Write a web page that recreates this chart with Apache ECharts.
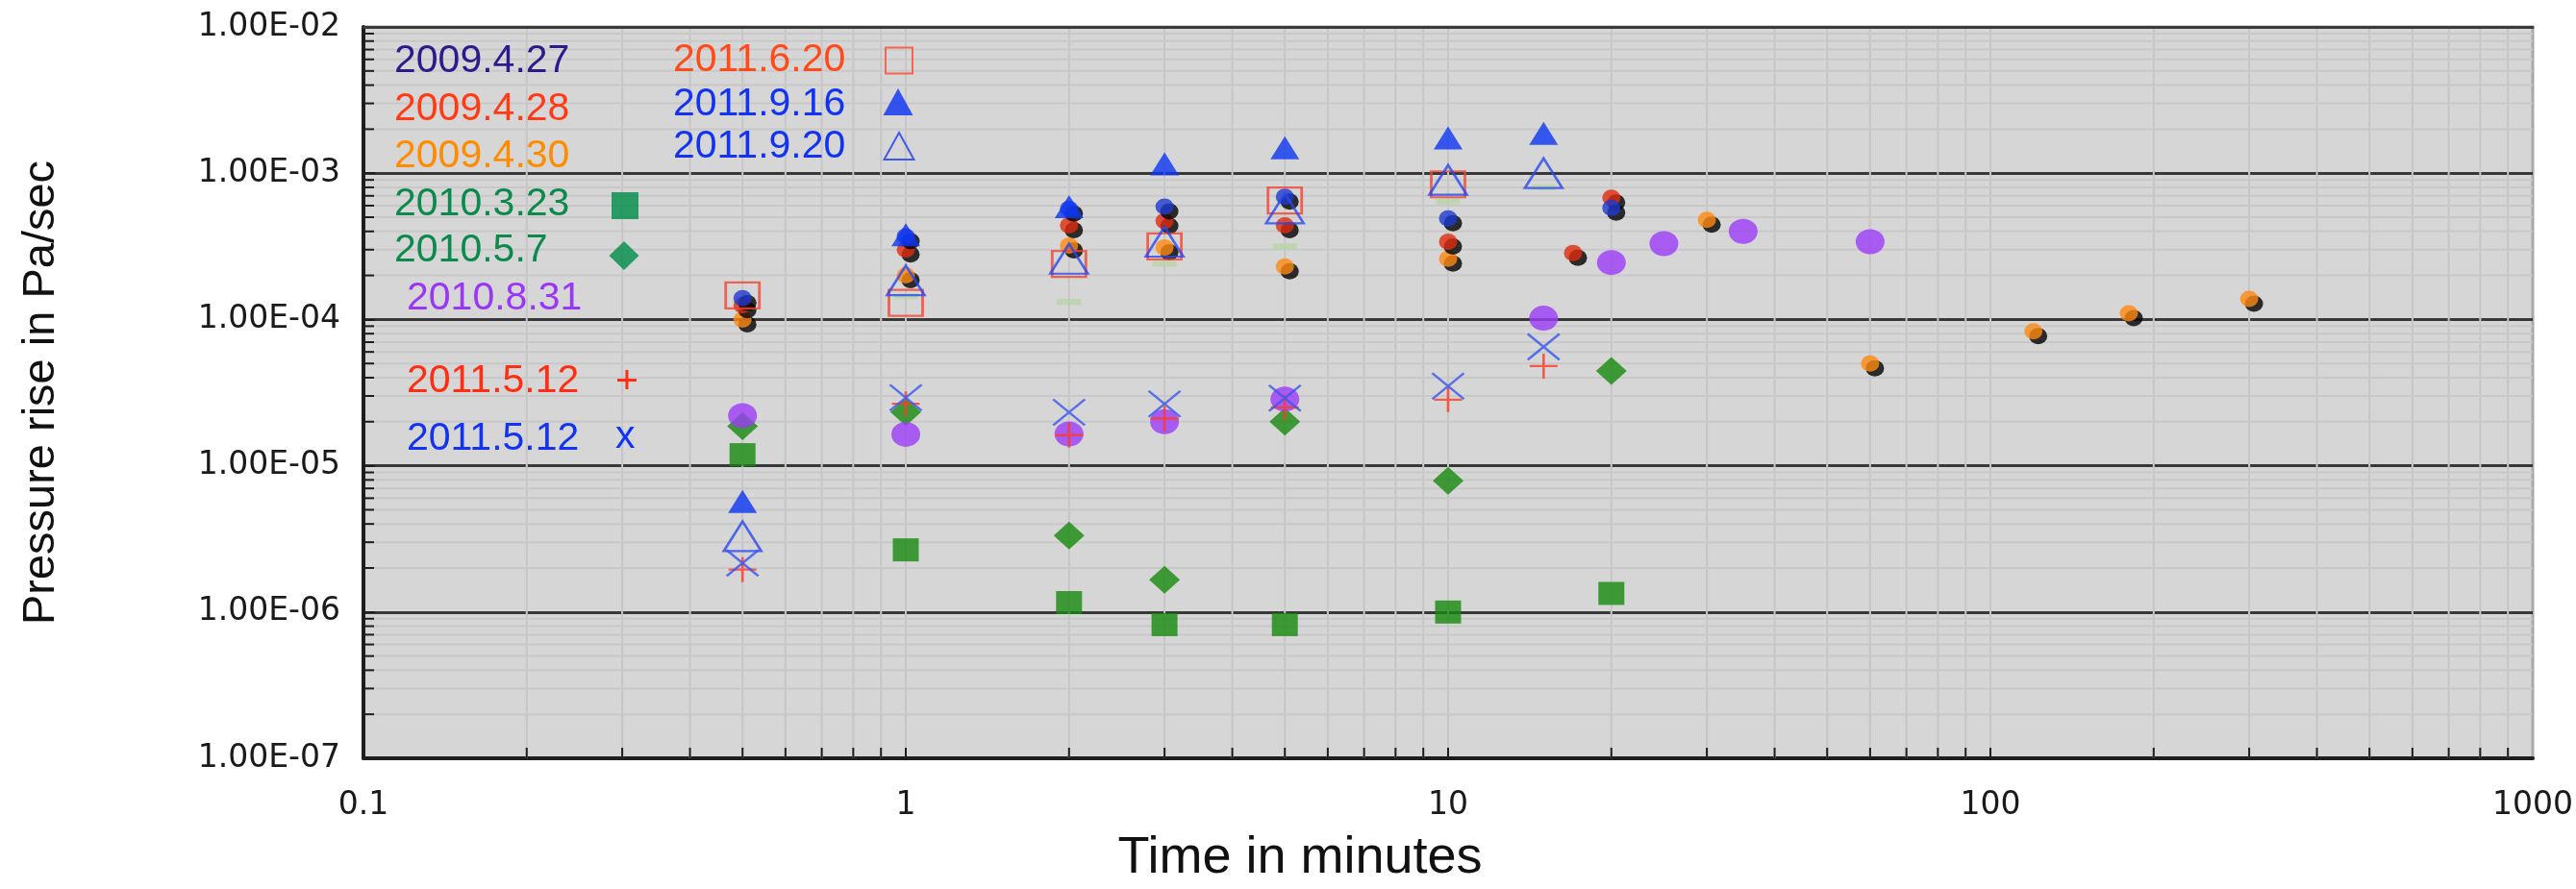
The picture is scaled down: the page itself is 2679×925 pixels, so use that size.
<!DOCTYPE html>
<html><head><meta charset="utf-8">
<script src="https://cdn.jsdelivr.net/npm/echarts@6/dist/echarts.min.js"></script>
<style>html,body{margin:0;padding:0;background:#fff}#c{width:2679px;height:925px}</style>
</head><body><div id="c"></div>
<script>
// ---------- data (time in minutes, pressure rise in Pa/sec) ----------
const xTickLabels = ['0.1', '1', '10', '100', '1000'];
const yTickLabels = ['1.00E-07', '1.00E-06', '1.00E-05', '1.00E-04', '1.00E-03', '1.00E-02'];

const t_20090427 = [0.5, 1, 2, 3, 5, 10, 20];
const p_20090427 = [1.4e-4, 3.7e-4, 5.7e-4, 5.9e-4, 6.9e-4, 4.9e-4, 5.8e-4];

const t_20090428 = [0.5, 1, 2, 3, 5, 10, 17, 20];
const p_20090428 = [1.25e-4, 3.0e-4, 4.4e-4, 4.7e-4, 4.4e-4, 3.4e-4, 2.85e-4, 6.8e-4];

const t_20090430 = [0.5, 1, 2, 3, 5, 10, 30, 60, 120, 180, 300];
const p_20090430 = [1.0e-4, 2.0e-4, 3.2e-4, 3.1e-4, 2.3e-4, 2.6e-4, 4.8e-4, 5.0e-5, 8.3e-5, 1.1e-4, 1.38e-4];

const t_20100323 = [0.5, 1, 2, 3, 5, 10, 20];
const p_20100323 = [1.19e-5, 2.66e-6, 1.16e-6, 8.2e-7, 8.2e-7, 1.0e-6, 1.34e-6];

const t_20100507 = [0.5, 1, 2, 3, 5, 10, 20];
const p_20100507 = [1.86e-5, 2.33e-5, 3.33e-6, 1.66e-6, 2.0e-5, 7.9e-6, 4.45e-5];

const t_20100831 = [0.5, 1, 2, 3, 5, 15, 20, 25, 35, 60];
const p_20100831 = [2.2e-5, 1.64e-5, 1.65e-5, 2.0e-5, 2.85e-5, 1.02e-4, 2.45e-4, 3.3e-4, 4.0e-4, 3.4e-4];

const t_20110512plus = [0.5, 1, 2, 3, 5, 10, 15];
const p_20110512plus = [1.95e-6, 2.65e-5, 1.62e-5, 2.1e-5, 2.5e-5, 2.83e-5, 4.8e-5];

const t_20110512x = [0.5, 1, 2, 3, 5, 10, 15];
const p_20110512x = [2.16e-6, 2.92e-5, 2.32e-5, 2.65e-5, 2.9e-5, 3.5e-5, 6.5e-5];

const t_20110620 = [0.5, 1, 2, 3, 5, 10];
const p_20110620 = [1.46e-4, 1.3e-4, 2.4e-4, 3.16e-4, 6.5e-4, 8.4e-4];

const t_20110916 = [0.5, 1, 2, 3, 5, 10, 15];
const p_20110916 = [5.7e-6, 3.8e-4, 5.9e-4, 1.16e-3, 1.49e-3, 1.74e-3, 1.87e-3];

const t_20110920 = [0.5, 1, 2, 3, 5, 10, 15];
const p_20110920 = [3.3e-6, 1.85e-4, 2.6e-4, 3.4e-4, 5.75e-4, 9.0e-4, 1.0e-3];

// pale green dashes (no legend entry)
const t_unlabeled = [1, 2, 3, 5, 10, 15];
const p_unlabeled = [1.44e-4, 1.32e-4, 2.4e-4, 3.16e-4, 6.4e-4, 8.0e-4];

// ---------- axis structure (log minor grid values) ----------
const minorX = [];
[0.1, 1, 10, 100].forEach(d => { for (let k = 1; k <= 9; k++) { if (d === 0.1 && k === 1) continue; minorX.push(+(d * k).toPrecision(3)); } });
const minorY = [];
for (let e = -7; e <= -3; e++) { for (let k = 2; k <= 9; k++) minorY.push(+(k * Math.pow(10, e)).toPrecision(3)); }
const gridData = minorX.map(v => [v, 1e-4, 0]).concat(minorY.map(v => [1, v, 1]));

function pairs(xs, ys) { return xs.map((x, i) => [x, ys[i]]); }

const dotShadow = { shadowColor: '#000', shadowBlur: 0, shadowOffsetX: 5, shadowOffsetY: 5 };
const crossPath = 'path://M0,0L10,10M10,0L0,10';
const plusPath = 'path://M5,0L5,10M0,5L10,5';
const clear = 'rgba(0,0,0,0)';

function sc(name, xs, ys, symbol, size, itemStyle) {
  return { type: 'scatter', name, data: pairs(xs, ys), symbol, symbolSize: size, itemStyle, silent: true, z: 3 };
}

const series = [
  {
    type: 'custom', name: 'grid', silent: true, z: 1, data: gridData,
    encode: { x: 0, y: 1 },
    renderItem: function (params, api) {
      const cs = params.coordSys;
      if (api.value(2) === 0) {
        const x = api.coord([api.value(0), 1e-4])[0];
        return { type: 'group', children: [
          { type: 'line', shape: { x1: x, y1: cs.y + 2, x2: x, y2: cs.y + cs.height }, style: { stroke: '#c6c6c6', lineWidth: 2 } },
          { type: 'line', shape: { x1: x, y1: cs.y + cs.height, x2: x, y2: cs.y + cs.height - 11 }, style: { stroke: '#1e1e1e', lineWidth: 2 } }
        ] };
      }
      const y = api.coord([1, api.value(1)])[1];
      return { type: 'group', children: [
        { type: 'line', shape: { x1: cs.x + 2, y1: y, x2: cs.x + cs.width, y2: y }, style: { stroke: '#c8c8c8', lineWidth: 2 } },
        { type: 'line', shape: { x1: cs.x, y1: y, x2: cs.x + 11, y2: y }, style: { stroke: '#1e1e1e', lineWidth: 2 } }
      ] };
    }
  },
  sc('2010.3.23', t_20100323, p_20100323, 'rect', [27, 24], { color: '#178a0e' }),
  sc('2010.5.7', t_20100507, p_20100507, 'diamond', [32, 29], { color: '#178a0e' }),
  sc('2010.8.31', t_20100831, p_20100831, 'circle', [30, 26], { color: '#9b3cf6' }),
  sc('unlabeled', t_unlabeled, p_unlabeled, 'rect', [25, 6], { color: '#b9d4a8' }),
  sc('2009.4.30', t_20090430, p_20090430, 'circle', [19, 17], Object.assign({ color: '#ff8a12' }, dotShadow)),
  sc('2009.4.28', t_20090428, p_20090428, 'circle', [19, 17], Object.assign({ color: '#e02a0c' }, dotShadow)),
  sc('2009.4.27', t_20090427, p_20090427, 'circle', [19, 17], Object.assign({ color: '#1e3ad0' }, dotShadow)),
  sc('2011.6.20', t_20110620, p_20110620, 'rect', [35, 27], { color: clear, borderColor: '#f04634', borderWidth: 2.5 }),
  sc('2011.9.20', t_20110920, p_20110920, 'triangle', [39, 31], { color: clear, borderColor: '#2a48ee', borderWidth: 2.5 }),
  sc('2011.9.16', t_20110916, p_20110916, 'triangle', [30, 24], { color: '#0c36f2' }),
  sc('2011.5.12 +', t_20110512plus, p_20110512plus, plusPath, [29, 26], { color: clear, borderColor: '#ff3a28', borderWidth: 2.5 }),
  sc('2011.5.12 x', t_20110512x, p_20110512x, crossPath, [33, 27], { color: clear, borderColor: '#3a56ee', borderWidth: 2.5 })
];

// ---------- legend layout ----------
const LF = 'Liberation Sans';
function textLegend(name, x, cy, color, fmt) {
  return { data: [name], left: x - 5, top: cy - 21, icon: 'none', itemWidth: 0, itemHeight: 30, padding: 0,
    selectedMode: false, formatter: fmt || (n => n),
    textStyle: { fontFamily: LF, fontSize: 41, color: color } };
}
function iconLegend(name, cx, cy, w, h, icon, itemStyle) {
  return { data: [{ name: name, icon: icon, itemStyle: itemStyle }], left: cx - w / 2, top: cy - h / 2,
    itemWidth: w, itemHeight: h, padding: 0, selectedMode: false, formatter: () => '',
    textStyle: { fontSize: 1 } };
}
const legends = [
  textLegend('2009.4.27', 410, 64, '#2e1a8c'),
  textLegend('2009.4.28', 410, 114, '#ff3a14'),
  textLegend('2009.4.30', 410, 163, '#ff8c00'),
  textLegend('2010.3.23', 410, 213, '#0b8a4c'),
  textLegend('2010.5.7', 410, 261, '#0b8a4c'),
  textLegend('2010.8.31', 423, 311, '#9a36f5'),
  textLegend('2011.5.12 +', 423, 397, '#ff2d12', n => n.split(' ')[0]),
  textLegend('2011.5.12 +', 640, 398, '#ff2d12', n => n.split(' ')[1]),
  textLegend('2011.5.12 x', 423, 457, '#1233f2', n => n.split(' ')[0]),
  textLegend('2011.5.12 x', 640, 455, '#1233f2', n => n.split(' ')[1]),
  textLegend('2011.6.20', 700, 63, '#ff4a1a'),
  textLegend('2011.9.16', 700, 109, '#1233f2'),
  textLegend('2011.9.20', 700, 153, '#1233f2'),
  iconLegend('2010.3.23', 650, 214, 28, 28, 'rect', { color: '#008c4a' }),
  iconLegend('2010.5.7', 649, 266, 31, 30, 'diamond', { color: '#008c4a' }),
  iconLegend('2011.6.20', 934, 62, 28, 27, 'rect', { color: clear, borderColor: '#ff4a2a', borderWidth: 2 }),
  iconLegend('2011.9.16', 934, 106, 31, 28, 'triangle', { color: '#0a30f5' }),
  iconLegend('2011.9.20', 934, 151, 31, 28, 'triangle', { color: clear, borderColor: '#1a3af2', borderWidth: 2 })
];

const chart = echarts.init(document.getElementById('c'), null, { renderer: 'canvas' });
chart.setOption({
  animation: false,
  backgroundColor: '#ffffff',
  textStyle: { fontFamily: LF },
  grid: { left: 378, right: 38, top: 28, bottom: 132, show: true, backgroundColor: '#d6d6d6', borderColor: '#a8a8a8', borderWidth: 3 },
  legend: legends,
  xAxis: [{
    type: 'log', logBase: 10, min: 0.1, max: 1000,
    axisLine: { show: true, lineStyle: { color: '#1e1e1e', width: 4 } },
    axisTick: { show: false },
    axisLabel: { margin: 33, fontFamily: 'DejaVu Sans', fontSize: 33, color: '#1a1a1a',
      formatter: v => xTickLabels[Math.round(Math.log10(v)) + 1] },
    splitLine: { show: false },
    name: 'Time in minutes', nameLocation: 'middle', nameGap: 77,
    nameTextStyle: { fontFamily: LF, fontSize: 54, color: '#111', padding: [0, 308, 0, 0] }
  }, {
    type: 'log', logBase: 10, min: 0.1, max: 1000, position: 'top', z: 5,
    axisLine: { show: true, lineStyle: { color: '#3a3a3a', width: 3 } },
    axisTick: { show: false }, axisLabel: { show: false }, splitLine: { show: false }
  }],
  yAxis: {
    type: 'log', logBase: 10, min: 1e-7, max: 1e-2,
    axisLine: { show: true, lineStyle: { color: '#1e1e1e', width: 4 } },
    axisTick: { show: true, inside: true, length: 12, lineStyle: { color: '#1e1e1e', width: 2 } },
    axisLabel: { margin: 24, fontFamily: 'DejaVu Sans', fontSize: 33, color: '#1a1a1a',
      formatter: v => yTickLabels[Math.round(Math.log10(v)) + 7] },
    splitLine: { show: true, lineStyle: { color: '#383838', width: 3 } },
    name: 'Pressure rise in Pa/sec', nameLocation: 'middle', nameGap: 311, nameRotate: 90,
    nameTextStyle: { fontFamily: LF, fontSize: 47, color: '#111' }
  },
  series: series
});
</script>
</body></html>
